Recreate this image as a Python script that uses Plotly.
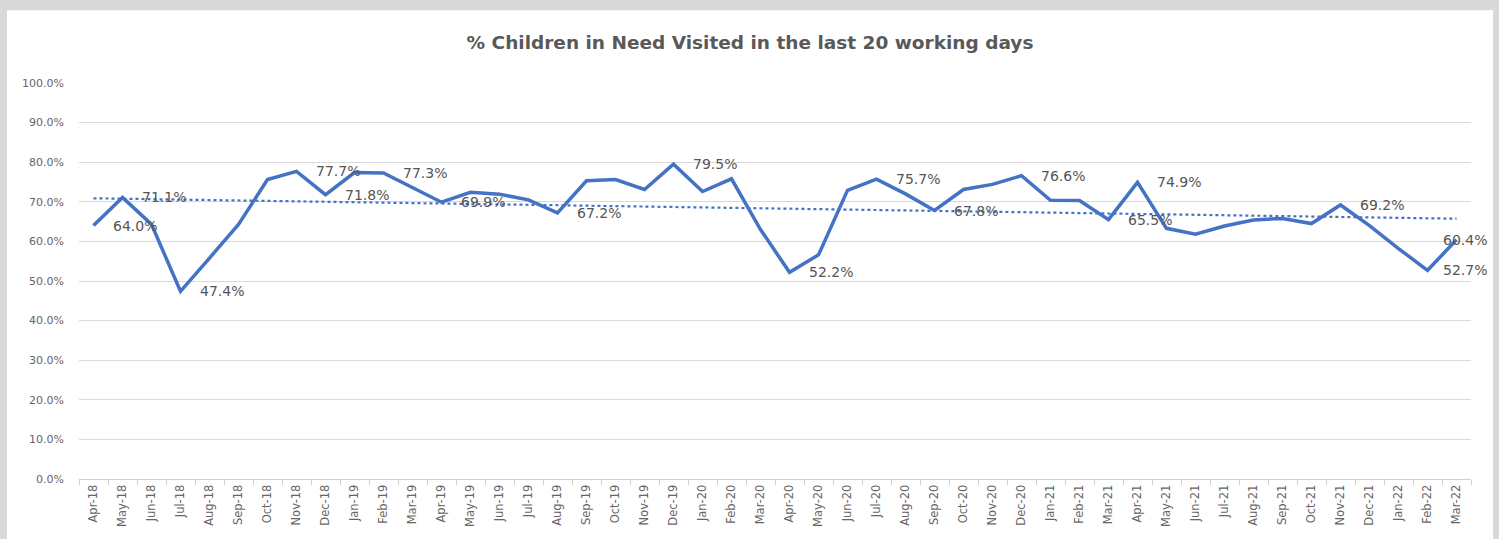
import numpy as np
import plotly.graph_objects as go

months = ["Apr-18", "May-18", "Jun-18", "Jul-18", "Aug-18", "Sep-18", "Oct-18", "Nov-18", "Dec-18",
          "Jan-19", "Feb-19", "Mar-19", "Apr-19", "May-19", "Jun-19", "Jul-19", "Aug-19", "Sep-19",
          "Oct-19", "Nov-19", "Dec-19", "Jan-20", "Feb-20", "Mar-20", "Apr-20", "May-20", "Jun-20",
          "Jul-20", "Aug-20", "Sep-20", "Oct-20", "Nov-20", "Dec-20", "Jan-21", "Feb-21", "Mar-21",
          "Apr-21", "May-21", "Jun-21", "Jul-21", "Aug-21", "Sep-21", "Oct-21", "Nov-21", "Dec-21",
          "Jan-22", "Feb-22", "Mar-22"]

visited_pct = [64.0, 71.1, 64.3, 47.4, 55.8, 64.3, 75.6, 77.7, 71.8,
               77.4, 77.3, 73.6, 69.9, 72.4, 71.9, 70.5, 67.2, 75.3,
               75.6, 73.1, 79.5, 72.6, 75.8, 63.0, 52.2, 56.6, 72.9,
               75.7, 72.0, 67.8, 73.1, 74.4, 76.6, 70.4, 70.3, 65.5,
               74.9, 63.3, 61.8, 63.9, 65.4, 65.8, 64.5, 69.2, 64.0,
               58.2, 52.7, 60.4]

labelled_months = ["Apr-18", "May-18", "Jul-18", "Nov-18", "Dec-18", "Feb-19", "Apr-19", "Aug-19",
                   "Dec-19", "Apr-20", "Jul-20", "Sep-20", "Dec-20", "Mar-21", "Apr-21", "Nov-21",
                   "Feb-22", "Mar-22"]

title_text = "% Children in Need Visited in the last 20 working days"

values = np.array(visited_pct) / 100.0
idx = np.arange(len(months))
slope, intercept = np.polyfit(idx, values, 1)
trend = slope * idx + intercept

LINE_COLOR = "#4472C4"
TEXT_GRAY = "#595959"
FONT = "DejaVu Sans, Liberation Sans, Arial"

fig = go.Figure()
fig.add_trace(go.Scatter(x=months, y=trend, mode="lines",
                         line=dict(color=LINE_COLOR, width=2.2, dash="dot"),
                         hoverinfo="skip", showlegend=False))
fig.add_trace(go.Scatter(x=months, y=values, mode="lines",
                         line=dict(color=LINE_COLOR, width=3.5),
                         showlegend=False))

annotations = []
for m, v in zip(months, values):
    if m in labelled_months:
        shift, anchor = 17, "left"
        if m == "Feb-22":
            shift, anchor = 61, "right"
        if m == "Mar-22":
            shift, anchor = 32, "right"
        annotations.append(dict(x=m, y=v, xref="x", yref="y", text=f"{v*100:.1f}%",
                                showarrow=False, xanchor=anchor, yanchor="middle", xshift=shift,
                                font=dict(family=FONT, size=14, color="#555555")))

W, H = 1499, 539
L, R, T, B = 79, 28, 83, 58
pw, ph = W - L - R, H - T - B

def px_x(p):
    return (p - L) / pw

def px_y(p):
    return (H - B - p) / ph

fig.update_layout(
    width=W, height=H,
    margin=dict(l=L, r=R, t=T, b=B, pad=0),
    paper_bgcolor="#d9d9d9",
    plot_bgcolor="white",
    title=dict(text="<b>" + title_text + "</b>", xref="container", x=750 / W, xanchor="center",
               yref="container", y=1 - 43 / H, yanchor="middle",
               font=dict(family="DejaVu Sans, Open Sans", size=18.5, color=TEXT_GRAY)),
    shapes=[dict(type="rect", xref="paper", yref="paper", layer="below",
                 x0=px_x(7), x1=px_x(1493), y0=px_y(10), y1=px_y(545),
                 fillcolor="white", line=dict(width=0))],
    annotations=annotations,
    xaxis=dict(type="category", categoryorder="array", categoryarray=months,
               range=[-0.5, len(months) - 0.5], tickangle=-90, tickson="boundaries",
               ticks="outside", ticklen=5, tickcolor="#d0d0d0",
               showgrid=False, showline=True, linecolor="#d0d0d0", linewidth=1,
               tickfont=dict(family=FONT, size=11.5, color="#666666")),
    yaxis=dict(range=[0, 1.0], dtick=0.1, tickformat=".1%", showgrid=True, gridcolor="#d9d9d9",
               gridwidth=1, zeroline=False, showline=False, ticks="",
               ticklabelstandoff=14,
               tickfont=dict(family=FONT, size=11, color="#666666")),
)

fig.write_html("out.html", config={"displayModeBar": False},
               post_script="document.body.style.margin='0';document.body.style.overflow='hidden';")
